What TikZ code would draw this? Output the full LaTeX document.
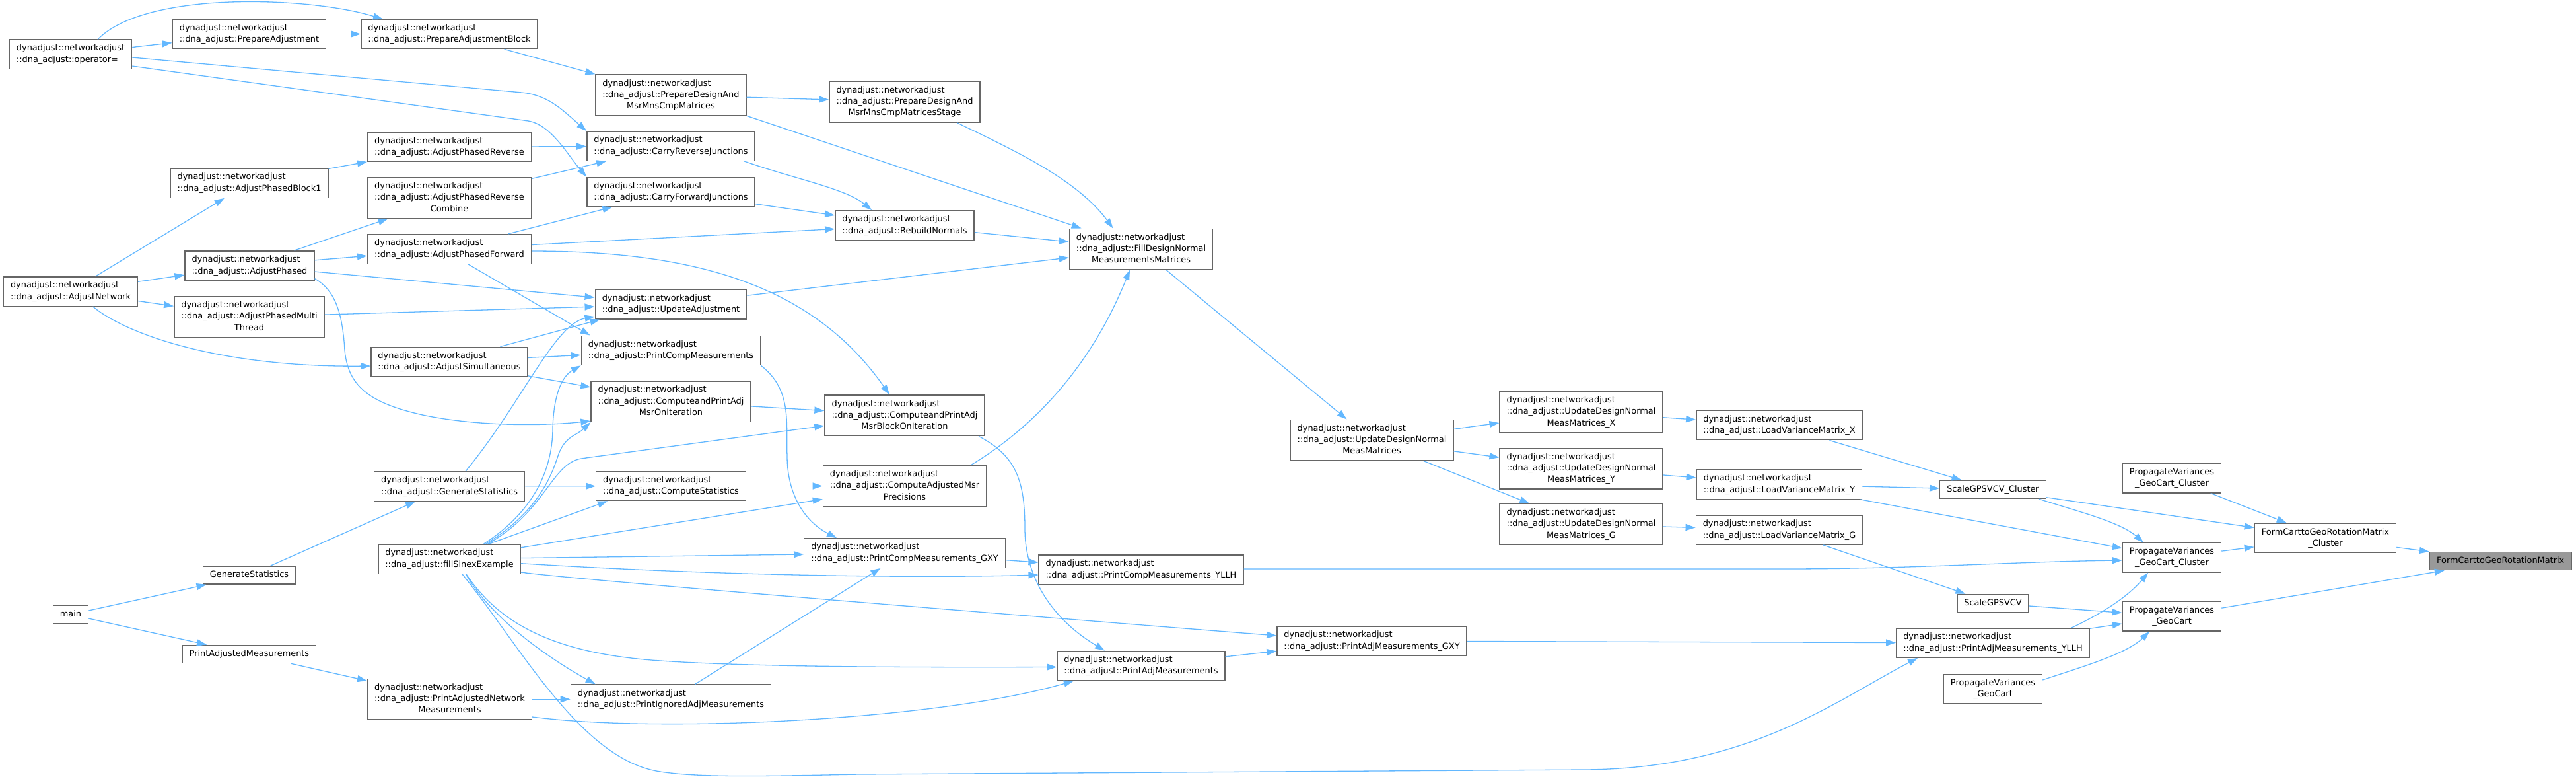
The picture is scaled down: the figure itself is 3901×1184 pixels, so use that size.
\documentclass[tikz,border=0pt]{standalone}
\usepackage{fontspec}
\setmainfont{DejaVu Sans}
\usetikzlibrary{arrows.meta,calc}
\definecolor{edgeblue}{HTML}{63B8FF}
\definecolor{boxgray}{HTML}{666666}
\definecolor{hlgray}{HTML}{999999}
\newcommand\dgNW{dynadjust::networkadjust}
\newcommand\dgDA{::dna\_adjust::}
\newcommand\dgTwoL[2]{\begin{tabular}{@{}l@{}}#1\\#2\end{tabular}}
\newcommand\dgThree[3]{\begin{tabular}{@{}l@{}}#1\\#2\\\multicolumn{1}{@{}c@{}}{#3}\end{tabular}}
\newcommand\dgTwoC[2]{\begin{tabular}{@{}c@{}}#1\\#2\end{tabular}}
\newcommand\dgOne[1]{\begin{tabular}{@{}c@{}}#1\end{tabular}}
\begin{document}
\begin{tikzpicture}[x=1pt,y=-1pt,
  gn/.style={draw=boxgray, fill=white, line width=1.4pt, inner xsep=10.5pt, inner ysep=5pt,
             font=\fontsize{12.9}{17.2}\selectfont, anchor=center},
  ge/.style={draw=edgeblue, line width=1.3pt, -{Triangle[length=15pt,width=10pt]}}]
\useasboundingbox[fill=white] (0,0) rectangle (3901,1184);

% ---- nodes ----
\node[gn] (op) at (107,82) {\dgTwoL{\dgNW}{\dgDA operator=}};
\node[gn] (PA) at (377.5,51.5) {\dgTwoL{\dgNW}{\dgDA PrepareAdjustment}};
\node[gn] (PAB) at (680.5,51.5) {\dgTwoL{\dgNW}{\dgDA PrepareAdjustmentBlock}};
\node[gn] (APR) at (680.5,222.5) {\dgTwoL{\dgNW}{\dgDA AdjustPhasedReverse}};
\node[gn] (B1) at (377.5,277) {\dgTwoL{\dgNW}{\dgDA AdjustPhasedBlock1}};
\node[gn] (COMB) at (680.5,299.5) {\dgThree{\dgNW}{\dgDA AdjustPhasedReverse}{Combine}};
\node[gn] (FWD) at (680.5,377) {\dgTwoL{\dgNW}{\dgDA AdjustPhasedForward}};
\node[gn] (AP) at (378,402) {\dgTwoL{\dgNW}{\dgDA AdjustPhased}};
\node[gn] (AN) at (107,441) {\dgTwoL{\dgNW}{\dgDA AdjustNetwork}};
\node[gn] (MT) at (377.5,479.5) {\dgThree{\dgNW}{\dgDA AdjustPhasedMulti}{Thread}};
\node[gn] (SIM) at (680.5,547.5) {\dgTwoL{\dgNW}{\dgDA AdjustSimultaneous}};
\node[gn] (GS) at (680.7,736) {\dgTwoL{\dgNW}{\dgDA GenerateStatistics}};
\node[gn] (FS) at (680.5,846) {\dgTwoL{\dgNW}{\dgDA fillSinexExample}};
\node[gn] (GSP) at (377.5,870.5) {\dgOne{GenerateStatistics}};
\node[gn] (MAIN) at (107,930) {\dgOne{main}};
\node[gn] (PAMP) at (377.5,990) {\dgOne{PrintAdjustedMeasurements}};
\node[gn] (PANM) at (681,1058.3) {\dgThree{\dgNW}{\dgDA PrintAdjustedNetwork}{Measurements}};
\node[gn] (PDAM) at (1016,143.8) {\dgThree{\dgNW}{\dgDA PrepareDesignAnd}{MsrMnsCmpMatrices}};
\node[gn] (CR) at (1016,221) {\dgTwoL{\dgNW}{\dgDA CarryReverseJunctions}};
\node[gn] (CF) at (1016,290.4) {\dgTwoL{\dgNW}{\dgDA CarryForwardJunctions}};
\node[gn] (UA) at (1016,460.7) {\dgTwoL{\dgNW}{\dgDA UpdateAdjustment}};
\node[gn] (PCM) at (1016,530.4) {\dgTwoL{\dgNW}{\dgDA PrintCompMeasurements}};
\node[gn] (CPO) at (1016,607.6) {\dgThree{\dgNW}{\dgDA ComputeandPrintAdj}{MsrOnIteration}};
\node[gn] (CS) at (1016,735.5) {\dgTwoL{\dgNW}{\dgDA ComputeStatistics}};
\node[gn] (PI) at (1016,1058.3) {\dgTwoL{\dgNW}{\dgDA PrintIgnoredAdjMeasurements}};
\node[gn] (PDS) at (1370,154.3) {\dgThree{\dgNW}{\dgDA PrepareDesignAnd}{MsrMnsCmpMatricesStage}};
\node[gn] (RN) at (1370,341) {\dgTwoL{\dgNW}{\dgDA RebuildNormals}};
\node[gn] (CPB) at (1370,628.8) {\dgThree{\dgNW}{\dgDA ComputeandPrintAdj}{MsrBlockOnIteration}};
\node[gn] (CAMP) at (1370,735.5) {\dgThree{\dgNW}{\dgDA ComputeAdjustedMsr}{Precisions}};
\node[gn] (PCMG) at (1370,837) {\dgTwoL{\dgNW}{\dgDA PrintCompMeasurements\_GXY}};
\node[gn] (FD) at (1728,377) {\dgThree{\dgNW}{\dgDA FillDesignNormal}{MeasurementsMatrices}};
\node[gn] (PCMY) at (1728,862) {\dgTwoL{\dgNW}{\dgDA PrintCompMeasurements\_YLLH}};
\node[gn] (PAM) at (1728,1007.5) {\dgTwoL{\dgNW}{\dgDA PrintAdjMeasurements}};
\node[gn] (UD) at (2077.5,666) {\dgThree{\dgNW}{\dgDA UpdateDesignNormal}{MeasMatrices}};
\node[gn] (PAMG) at (2077.5,970) {\dgTwoL{\dgNW}{\dgDA PrintAdjMeasurements\_GXY}};
\node[gn] (UX) at (2394.5,623.5) {\dgThree{\dgNW}{\dgDA UpdateDesignNormal}{MeasMatrices\_X}};
\node[gn] (UY) at (2394.5,709) {\dgThree{\dgNW}{\dgDA UpdateDesignNormal}{MeasMatrices\_Y}};
\node[gn] (UG) at (2394.5,793.5) {\dgThree{\dgNW}{\dgDA UpdateDesignNormal}{MeasMatrices\_G}};
\node[gn] (LX) at (2694.5,643.5) {\dgTwoL{\dgNW}{\dgDA LoadVarianceMatrix\_X}};
\node[gn] (LY) at (2694.5,733) {\dgTwoL{\dgNW}{\dgDA LoadVarianceMatrix\_Y}};
\node[gn] (LG) at (2694.5,802) {\dgTwoL{\dgNW}{\dgDA LoadVarianceMatrix\_G}};
\node[gn] (SGC) at (3018,741) {\dgOne{ScaleGPSVCV\_Cluster}};
\node[gn] (SG) at (3018,913) {\dgOne{ScaleGPSVCV}};
\node[gn] (PAMY) at (3018,973) {\dgTwoL{\dgNW}{\dgDA PrintAdjMeasurements\_YLLH}};
\node[gn] (PVB) at (3018,1042.5) {\dgTwoC{PropagateVariances}{\_GeoCart}};
\node[gn] (PVT) at (3289,723.6) {\dgTwoC{PropagateVariances}{\_GeoCart\_Cluster}};
\node[gn] (PVM) at (3289,843.7) {\dgTwoC{PropagateVariances}{\_GeoCart\_Cluster}};
\node[gn] (PV) at (3289,932.8) {\dgTwoC{PropagateVariances}{\_GeoCart}};
\node[gn] (FCC) at (3521.5,814.2) {\dgTwoC{FormCarttoGeoRotationMatrix}{\_Cluster}};
\node[gn, fill=hlgray] (FC) at (3786.7,849) {\dgOne{FormCarttoGeoRotationMatrix}};

% ---- edges: left part ----
\draw[ge] (op) -- (PA);
\draw[ge] ($(op.center)+(41,-22.3)$) .. controls (220,-15) and (470,-5) .. ($(PAB.center)+(-100.5,-22.5)$);
\draw[ge] (PA) -- (PAB);
\draw[ge] (PAB) -- (PDAM);
\draw[ge] ($(op.east)+(0,5)$) -- (790,140) .. controls (830,144) and (850,165) .. (CR.north west);
\draw[ge] ($(op.east)+(0,18)$) -- (800,183) .. controls (835,189) and (860,235) .. (CF.north west);
\draw[ge] (APR) -- (CR);
\draw[ge] (B1) -- (APR);
\draw[ge] (COMB) -- (CR);
\draw[ge] (AP) -- (COMB);
\draw[ge] (AP) -- (FWD);
\draw[ge] (FWD) -- (CF);
\draw[ge] (FWD) -- (RN);
\draw[ge] ($(FWD.east)+(0,3)$) .. controls (1050,380) and (1230,430) .. ($(CPB.north)+(-23,0)$);
\draw[ge] ($(FWD.south)+(28.5,0)$) -- ($(PCM.north west)+(14,0)$);
\draw[ge] (AP) -- (UA);
\draw[ge] (MT) -- (UA);
\draw[ge] ($(AP.east)+(0,19.7)$) .. controls (510,440) and (519,480) .. (522,530)
   .. controls (527,585) and (560,610) .. (640,628)
   .. controls (720,645) and (820,645) .. ($(CPO.south west)+(0,-2)$);
\draw[ge] (AN) -- (B1);
\draw[ge] (AN) -- (AP);
\draw[ge] (AN) -- (MT);
\draw[ge] ($(AN.south)+(33.6,0)$) .. controls (190,505) and (330,556) .. ($(SIM.west)+(0,6.5)$);
\draw[ge] ($(SIM.north)+(77,0)$) -- ($(UA.south west)+(8,0)$);
\draw[ge] (SIM) -- (PCM);
\draw[ge] (SIM) -- (CPO);
\draw[ge] ($(GS.north)+(24.5,0)$) .. controls (790,610) and (840,490) .. ($(UA.south west)+(0,-4.5)$);
\draw[ge] (GS) -- (CS);
\draw[ge] (MAIN) -- (GSP);
\draw[ge] (MAIN) -- (PAMP);
\draw[ge] (GSP) -- (GS);
\draw[ge] (PAMP) -- (PANM);
\draw[ge] (PANM) -- (PI);
\draw[ge] ($(PANM.east)+(0,26.7)$) .. controls (1000,1110) and (1420,1090) .. ($(PAM.south west)+(25.6,0)$);

% fillSinexExample
\draw[ge] ($(FS.north)+(52,0)$) .. controls (800,780) and (836,720) .. (837,650)
   .. controls (838,600) and (850,570) .. (PCM.south west);
\draw[ge] ($(FS.north)+(55,0)$) .. controls (815,775) and (835,720) .. (845,690)
   .. controls (855,660) and (872,660) .. (CPO.south west);
\draw[ge] ($(FS.north)+(58,0)$) .. controls (825,775) and (835,702) .. (880,694) -- ($(CPB.west)+(0,15.5)$);
\draw[ge] ($(FS.north)+(60,0)$) -- ($(CS.south west)+(18,0)$);
\draw[ge] (FS) -- (CAMP);
\draw[ge] (FS) -- (PCMG);
\draw[ge] ($(FS.east)+(0,6.7)$) .. controls (1100,872) and (1400,875) .. ($(PCMY.west)+(0,8)$);
\draw[ge] ($(FS.east)+(0,20)$) .. controls (850,875) and (1400,920) .. ($(PAMG.west)+(0,-8)$);
\draw[ge] ($(FS.south)+(25.5,0)$) .. controls (760,950) and (850,990) .. (1000,1000)
   .. controls (1150,1010) and (1400,1010) .. ($(PAM.west)+(0,2)$);
\draw[ge] ($(FS.south)+(25,0)$) .. controls (740,930) and (820,990) .. ($(PI.north west)+(38,0)$);
\draw[ge] ($(FS.south)+(19.5,0)$) .. controls (790,980) and (880,1150) .. (1000,1168)
   .. controls (1060,1177) and (1150,1175) .. (1300,1172) -- (2400,1165)
   .. controls (2650,1163) and (2780,1060) .. ($(PAMY.south west)+(33,0)$);

% middle
\draw[ge] (PI) -- (PCMG);
\draw[ge] (PCM.south east) .. controls (1200,590) and (1190,640) .. (1192,690)
   .. controls (1192,750) and (1220,790) .. ($(PCMG.north west)+(50,0)$);
\draw[ge] (PCMG) -- (PCMY);
\draw[ge] (CPO) -- (CPB);
\draw[ge] (CS) -- (CAMP);
\draw[ge] ($(CAMP.north)+(100,0)$) .. controls (1560,650) and (1650,560) .. ($(FD.south)+(-17,0)$);
\draw[ge] ($(CPB.south east)+(-9.5,0)$) .. controls (1540,690) and (1552,730) .. (1552,800)
   .. controls (1552,870) and (1590,935) .. ($(PAM.north)+(-55,0)$);
\draw[ge] (UA) -- (FD);
\draw[ge] (RN) -- (FD);
\draw[ge] (CF) -- (RN);
\draw[ge] ($(CR.south)+(111,0)$) .. controls (1200,270) and (1280,285) .. ($(RN.north west)+(56,0)$);
\draw[ge] (PDAM) -- (PDS);
\draw[ge] (PDAM.south east) -- ($(FD.north west)+(19,0)$);
\draw[ge] ($(PDS.south)+(79.5,0)$) .. controls (1530,225) and (1630,270) .. ($(FD.north)+(-42.5,0)$);

% right part
\draw[ge] (FD) -- (UD);
\draw[ge] (UD) -- (UX);
\draw[ge] (UD) -- (UY);
\draw[ge] (UD) -- (UG);
\draw[ge] (UX) -- (LX);
\draw[ge] (UY) -- (LY);
\draw[ge] (UG) -- (LG);
\draw[ge] (LX) -- (SGC);
\draw[ge] (LY) -- (SGC);
\draw[ge] (LY) -- (PVM);
\draw[ge] (LG) -- (SG);
\draw[ge] (SGC) -- (FCC);
\draw[ge] ($(SGC.south)+(70,0)$) .. controls (3150,775) and (3210,790) .. ($(PVM.north)+(-43,0)$);
\draw[ge] (PVT) -- (FCC);
\draw[ge] (PVM) -- (FCC);
\draw[ge] (FCC) -- (FC);
\draw[ge] (PV) -- (FC);
\draw[ge] (SG) -- (PV);
\draw[ge] (PAMY) -- (PV);
\draw[ge] ($(PAMY.north)+(119,0)$) .. controls (3190,925) and (3225,900) .. ($(PVM.south)+(-36,0)$);
\draw[ge] ($(PVB.east)+(0,-13.5)$) .. controls (3150,1010) and (3220,990) .. ($(PV.south)+(-34,0)$);
\draw[ge] (PAMG) -- (PAMY);
\draw[ge] (PAM) -- (PAMG);
\draw[ge] ($(PCMY.east)+(0,-1)$) -- (2700,861) .. controls (2900,861) and (3050,850) .. ($(PVM.west)+(0,4.3)$);
\end{tikzpicture}
\end{document}
